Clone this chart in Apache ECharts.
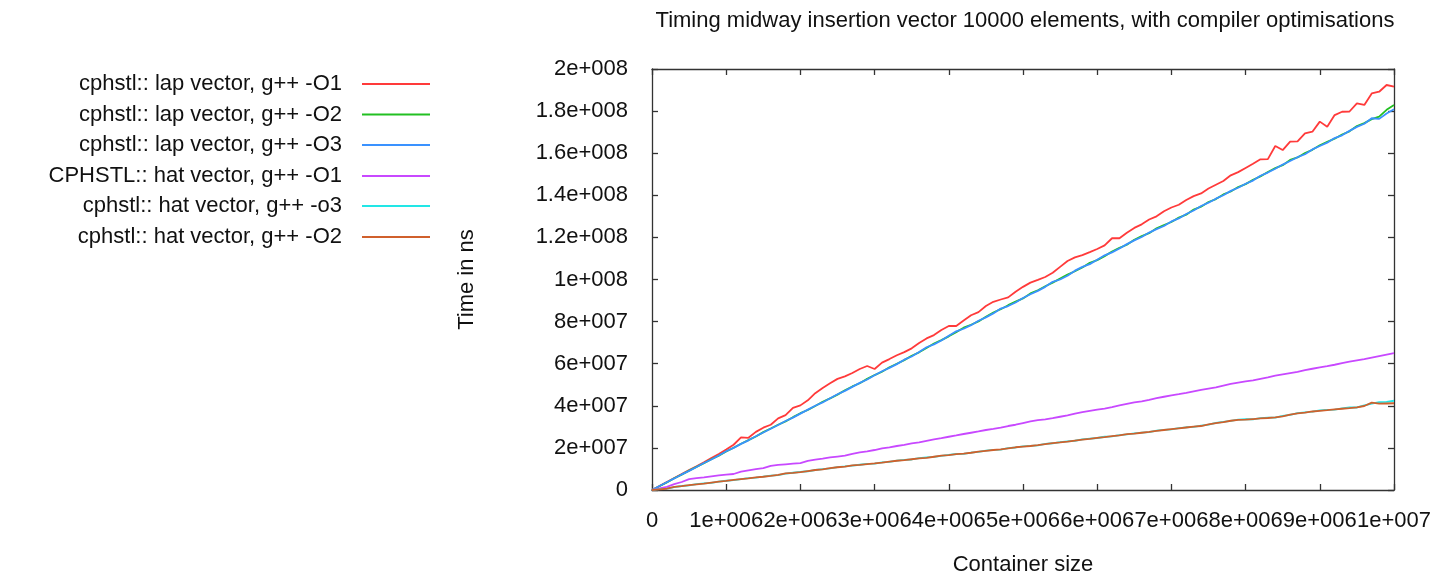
<!DOCTYPE html>
<html><head><meta charset="utf-8">
<script src="https://cdn.jsdelivr.net/npm/echarts@6/dist/echarts.min.js"></script>
<style>html,body{margin:0;padding:0;background:#fff}#c{width:1438px;height:579px}</style>
</head><body><div id="c"></div><script>
// Container size in millions of elements
const containerSizeM = [
0,0.1,0.2,0.3,0.4,0.5,0.6,0.7,0.8,0.9,
1.0,1.1,1.2,1.3,1.4,1.5,1.6,1.7,1.8,1.9,
2.0,2.1,2.2,2.3,2.4,2.5,2.6,2.7,2.8,2.9,
3.0,3.1,3.2,3.3,3.4,3.5,3.6,3.7,3.8,3.9,
4.0,4.1,4.2,4.3,4.4,4.5,4.6,4.7,4.8,4.9,
5.0,5.1,5.2,5.3,5.4,5.5,5.6,5.7,5.8,5.9,
6.0,6.1,6.2,6.3,6.4,6.5,6.6,6.7,6.8,6.9,
7.0,7.1,7.2,7.3,7.4,7.5,7.6,7.7,7.8,7.9,
8.0,8.1,8.2,8.3,8.4,8.5,8.6,8.7,8.8,8.9,
9.0,9.1,9.2,9.3,9.4,9.5,9.6,9.7,9.8,9.9,
10.0];
// Times in millions of ns
const lapO1 = [
0,1.9,3.8,5.7,7.6,9.5,11.3,13.2,15.2,17.1,
19.2,21.5,25.0,24.8,27.6,29.6,31.0,34.0,35.6,39.0,
40.2,42.6,46.0,48.5,50.7,52.8,54.0,55.6,57.5,58.9,
57.5,60.5,62.2,64.0,65.5,67.3,69.8,72.0,73.6,76.0,
77.9,77.9,80.5,83.0,84.5,87.4,89.4,90.5,91.5,94.2,
96.5,98.5,99.8,101.2,103.2,106.0,108.8,110.5,111.6,113.0,
114.5,116.2,119.6,119.6,122.2,124.5,126.2,128.5,130.0,132.4,
134.2,135.5,137.8,139.6,140.9,143.2,145.0,146.8,149.5,151.0,
153.0,155.0,157.1,157.2,163.4,161.5,165.5,165.6,169.4,170.2,
175.0,172.6,178.1,179.7,179.8,183.7,182.9,188.4,189.2,192.4,
191.6];
const lapO2 = [
0,1.8,3.6,5.6,7.3,9.2,11.0,12.7,14.6,16.3,
18.3,20.1,22.0,23.7,25.4,27.5,29.2,31.0,32.6,34.6,
36.5,38.0,39.9,41.9,43.5,45.3,47.4,49.2,50.7,52.8,
54.6,56.2,58.3,60.0,61.7,63.8,65.4,67.5,69.6,71.2,
73.0,75.0,77.1,78.5,80.1,82.3,84.3,85.9,87.8,89.5,
91.0,93.4,94.9,96.8,98.5,100.4,102.3,103.9,105.7,107.9,
109.2,111.1,113.3,115.0,116.5,118.9,120.6,122.0,124.3,125.9,
127.3,129.4,130.8,133.2,134.6,136.8,138.2,140.4,141.8,143.9,
145.3,147.4,149.0,151.1,152.9,154.3,156.8,158.0,160.1,161.6,
163.8,165.4,166.9,168.9,170.4,172.9,174.3,176.2,177.4,180.6,
182.9];
const lapO3 = [
0,1.9,3.7,5.5,7.4,9.1,10.9,12.8,14.5,16.4,
18.4,20.0,21.9,23.6,25.5,27.3,29.1,30.9,32.8,34.4,
36.3,38.2,40.0,41.6,43.6,45.5,47.1,49.0,50.9,52.5,
54.5,56.4,58.0,59.8,61.9,63.4,65.6,67.8,69.2,71.0,
73.3,75.4,76.6,78.3,80.4,82.0,83.9,86.2,87.4,89.1,
91.2,93.0,94.6,96.5,98.9,100.0,101.8,104.2,106.0,107.3,
109.4,111.5,112.9,114.7,116.8,118.6,120.2,122.3,123.9,125.4,
127.6,129.0,131.1,132.8,134.9,136.5,138.4,140.0,142.1,143.6,
145.5,147.0,149.3,150.8,152.6,154.6,156.3,158.1,159.5,161.8,
163.4,165.0,167.2,168.5,170.6,172.5,174.0,176.6,176.3,178.9,
180.9];
const hatO1 = [
0,0.8,1.5,2.8,3.8,5.2,5.6,6.0,6.5,6.9,
7.3,7.6,8.7,9.3,9.9,10.4,11.5,11.9,12.2,12.5,
12.8,13.8,14.4,14.9,15.5,15.9,16.3,17.2,17.9,18.4,
19.0,19.8,20.3,20.9,21.4,22.1,22.6,23.3,24.0,24.6,
25.3,25.9,26.6,27.2,27.8,28.5,29.0,29.6,30.4,31.0,
31.8,32.6,33.2,33.6,34.1,34.8,35.5,36.3,37.0,37.6,
38.2,38.7,39.4,40.2,40.9,41.6,42.1,42.8,43.6,44.3,
45.0,45.5,46.1,46.9,47.6,48.2,48.8,49.6,50.4,51.0,
51.6,52.1,52.8,53.5,54.3,54.9,55.5,56.1,56.9,57.6,
58.3,58.8,59.5,60.3,61.0,61.6,62.2,62.9,63.6,64.3,
65.0];
const hatO3 = [
0,0.4,0.7,1.4,1.9,2.2,2.8,3.1,3.4,4.0,
4.4,4.7,5.2,5.6,5.9,6.4,6.8,7.1,7.8,8.2,
8.6,8.9,9.5,9.9,10.3,10.9,11.2,11.6,12.0,12.4,
12.5,13.1,13.4,14.0,14.3,14.5,15.1,15.5,15.7,16.2,
16.7,17.1,17.2,17.8,18.1,18.7,19.1,19.2,19.9,20.2,
20.7,21.0,21.2,21.9,22.2,22.7,23.1,23.4,24.0,24.4,
24.7,25.3,25.5,26.1,26.4,26.9,27.3,27.5,28.2,28.6,
28.8,29.4,29.8,30.0,30.6,31.1,31.9,32.4,32.8,33.4,
33.6,33.6,34.1,34.4,34.4,35.2,35.7,36.5,36.9,37.2,
37.8,38.1,38.2,38.8,39.2,39.2,40.2,41.0,41.7,41.9,
42.4];
const hatO2 = [
0,0.3,0.6,1.5,1.8,2.3,2.7,3.0,3.5,4.0,
4.3,4.8,5.2,5.5,6.0,6.3,6.7,7.2,7.9,8.1,
8.5,9.0,9.5,9.8,10.4,10.8,11.1,11.7,11.9,12.3,
12.6,13.0,13.5,13.9,14.2,14.6,15.0,15.3,15.8,16.3,
16.6,17.0,17.3,17.7,18.2,18.6,19.0,19.3,19.8,20.3,
20.6,20.9,21.3,21.8,22.3,22.6,23.0,23.5,23.9,24.3,
24.8,25.1,25.6,26.0,26.5,26.8,27.2,27.6,28.1,28.5,
28.9,29.3,29.7,30.1,30.4,31.2,31.8,32.2,32.9,33.3,
33.4,33.7,34.0,34.2,34.5,35.0,35.8,36.4,36.8,37.3,
37.6,37.9,38.3,38.6,38.9,39.3,39.9,41.5,41.0,41.1,
41.2];

const seriesNames = [
  'cphstl:: lap vector, g++ -O1',
  'cphstl:: lap vector, g++ -O2',
  'cphstl:: lap vector, g++ -O3',
  'CPHSTL:: hat vector, g++ -O1',
  'cphstl:: hat vector, g++ -o3',
  'cphstl:: hat vector, g++ -O2'
];
const seriesValues = [lapO1, lapO2, lapO3, hatO1, hatO3, hatO2];
const seriesColors = ['#ff3a3a', '#22c022', '#3a92ff', '#c848ff', '#22e6e6', '#d0602c'];
const xTickLabels = ['0','1e+006','2e+006','3e+006','4e+006','5e+006','6e+006','7e+006','8e+006','9e+006','1e+007'];
const yTickLabels = ['0','2e+007','4e+007','6e+007','8e+007','1e+008','1.2e+008','1.4e+008','1.6e+008','1.8e+008','2e+008'];
const legendRowY = [84, 114.5, 145, 176, 206, 237];

const FONT = 'Liberation Sans';
const FS = 22;
const UNIT = 1e6;
const axisColor = '#333';

const chart = echarts.init(document.getElementById('c'), null, {renderer: 'canvas'});

const baseX = {
  type: 'value', min: 0, max: 10 * UNIT, interval: UNIT,
  splitLine: {show: false},
  axisLine: {show: true, onZero: false, lineStyle: {color: axisColor, width: 1.3}},
  axisTick: {show: true, inside: true, length: 6, lineStyle: {color: axisColor, width: 1.3}}
};
const baseY = {
  type: 'value', min: 0, max: 200 * UNIT, interval: 20 * UNIT,
  splitLine: {show: false},
  axisLine: {show: true, onZero: false, lineStyle: {color: axisColor, width: 1.3}},
  axisTick: {show: true, inside: true, length: 6, lineStyle: {color: axisColor, width: 1.3}}
};

const option = {
  animation: false,
  backgroundColor: '#fff',
  textStyle: {fontFamily: FONT},
  title: {
    text: 'Timing midway insertion vector 10000 elements, with compiler optimisations',
    left: 1020, top: 5, textAlign: 'center',
    textStyle: {fontFamily: FONT, fontSize: FS, fontWeight: 'normal', color: '#111'}
  },
  grid: {left: 652, right: 44, top: 69, bottom: 89, containLabel: false, outerBoundsMode: 'none'},
  xAxis: [
    Object.assign({}, baseX, {
      position: 'bottom',
      name: 'Container size', nameLocation: 'middle', nameGap: 64,
      nameTextStyle: {fontFamily: FONT, fontSize: FS, color: '#111'},
      axisLabel: {
        margin: 20, fontFamily: FONT, fontSize: FS, color: '#111', hideOverlap: false,
        formatter: v => xTickLabels[Math.round(v / UNIT)]
      }
    }),
    Object.assign({}, baseX, {position: 'top', axisLabel: {show: false}})
  ],
  yAxis: [
    Object.assign({}, baseY, {
      position: 'left',
      name: 'Time in ns', nameLocation: 'middle', nameRotate: 90, nameGap: 174,
      nameTextStyle: {fontFamily: FONT, fontSize: FS, color: '#111'},
      axisLabel: {
        margin: 24, fontFamily: FONT, fontSize: FS, color: '#111',
        formatter: v => yTickLabels[Math.round(v / (20 * UNIT))]
      }
    }),
    Object.assign({}, baseY, {position: 'right', axisLabel: {show: false}})
  ],
  legend: seriesNames.map((name, i) => ({
    data: [{name: name, icon: 'rect'}],
    orient: 'vertical', align: 'right',
    right: 1438 - 430, top: legendRowY[i] - 12,
    padding: 0, itemWidth: 68, itemHeight: 2,
    selectedMode: false,
    textStyle: {fontFamily: FONT, fontSize: FS, color: '#111', lineHeight: 24, padding: [0, 15, 0, 0]}
  })),
  series: seriesNames.map((name, i) => ({
    name: name,
    type: 'line',
    xAxisIndex: 0, yAxisIndex: 0,
    symbol: 'none',
    color: seriesColors[i],
    lineStyle: {color: seriesColors[i], width: 1.8},
    data: containerSizeM.map((x, j) => [x * UNIT, seriesValues[i][j] * UNIT])
  }))
};
chart.setOption(option);
</script></body></html>
